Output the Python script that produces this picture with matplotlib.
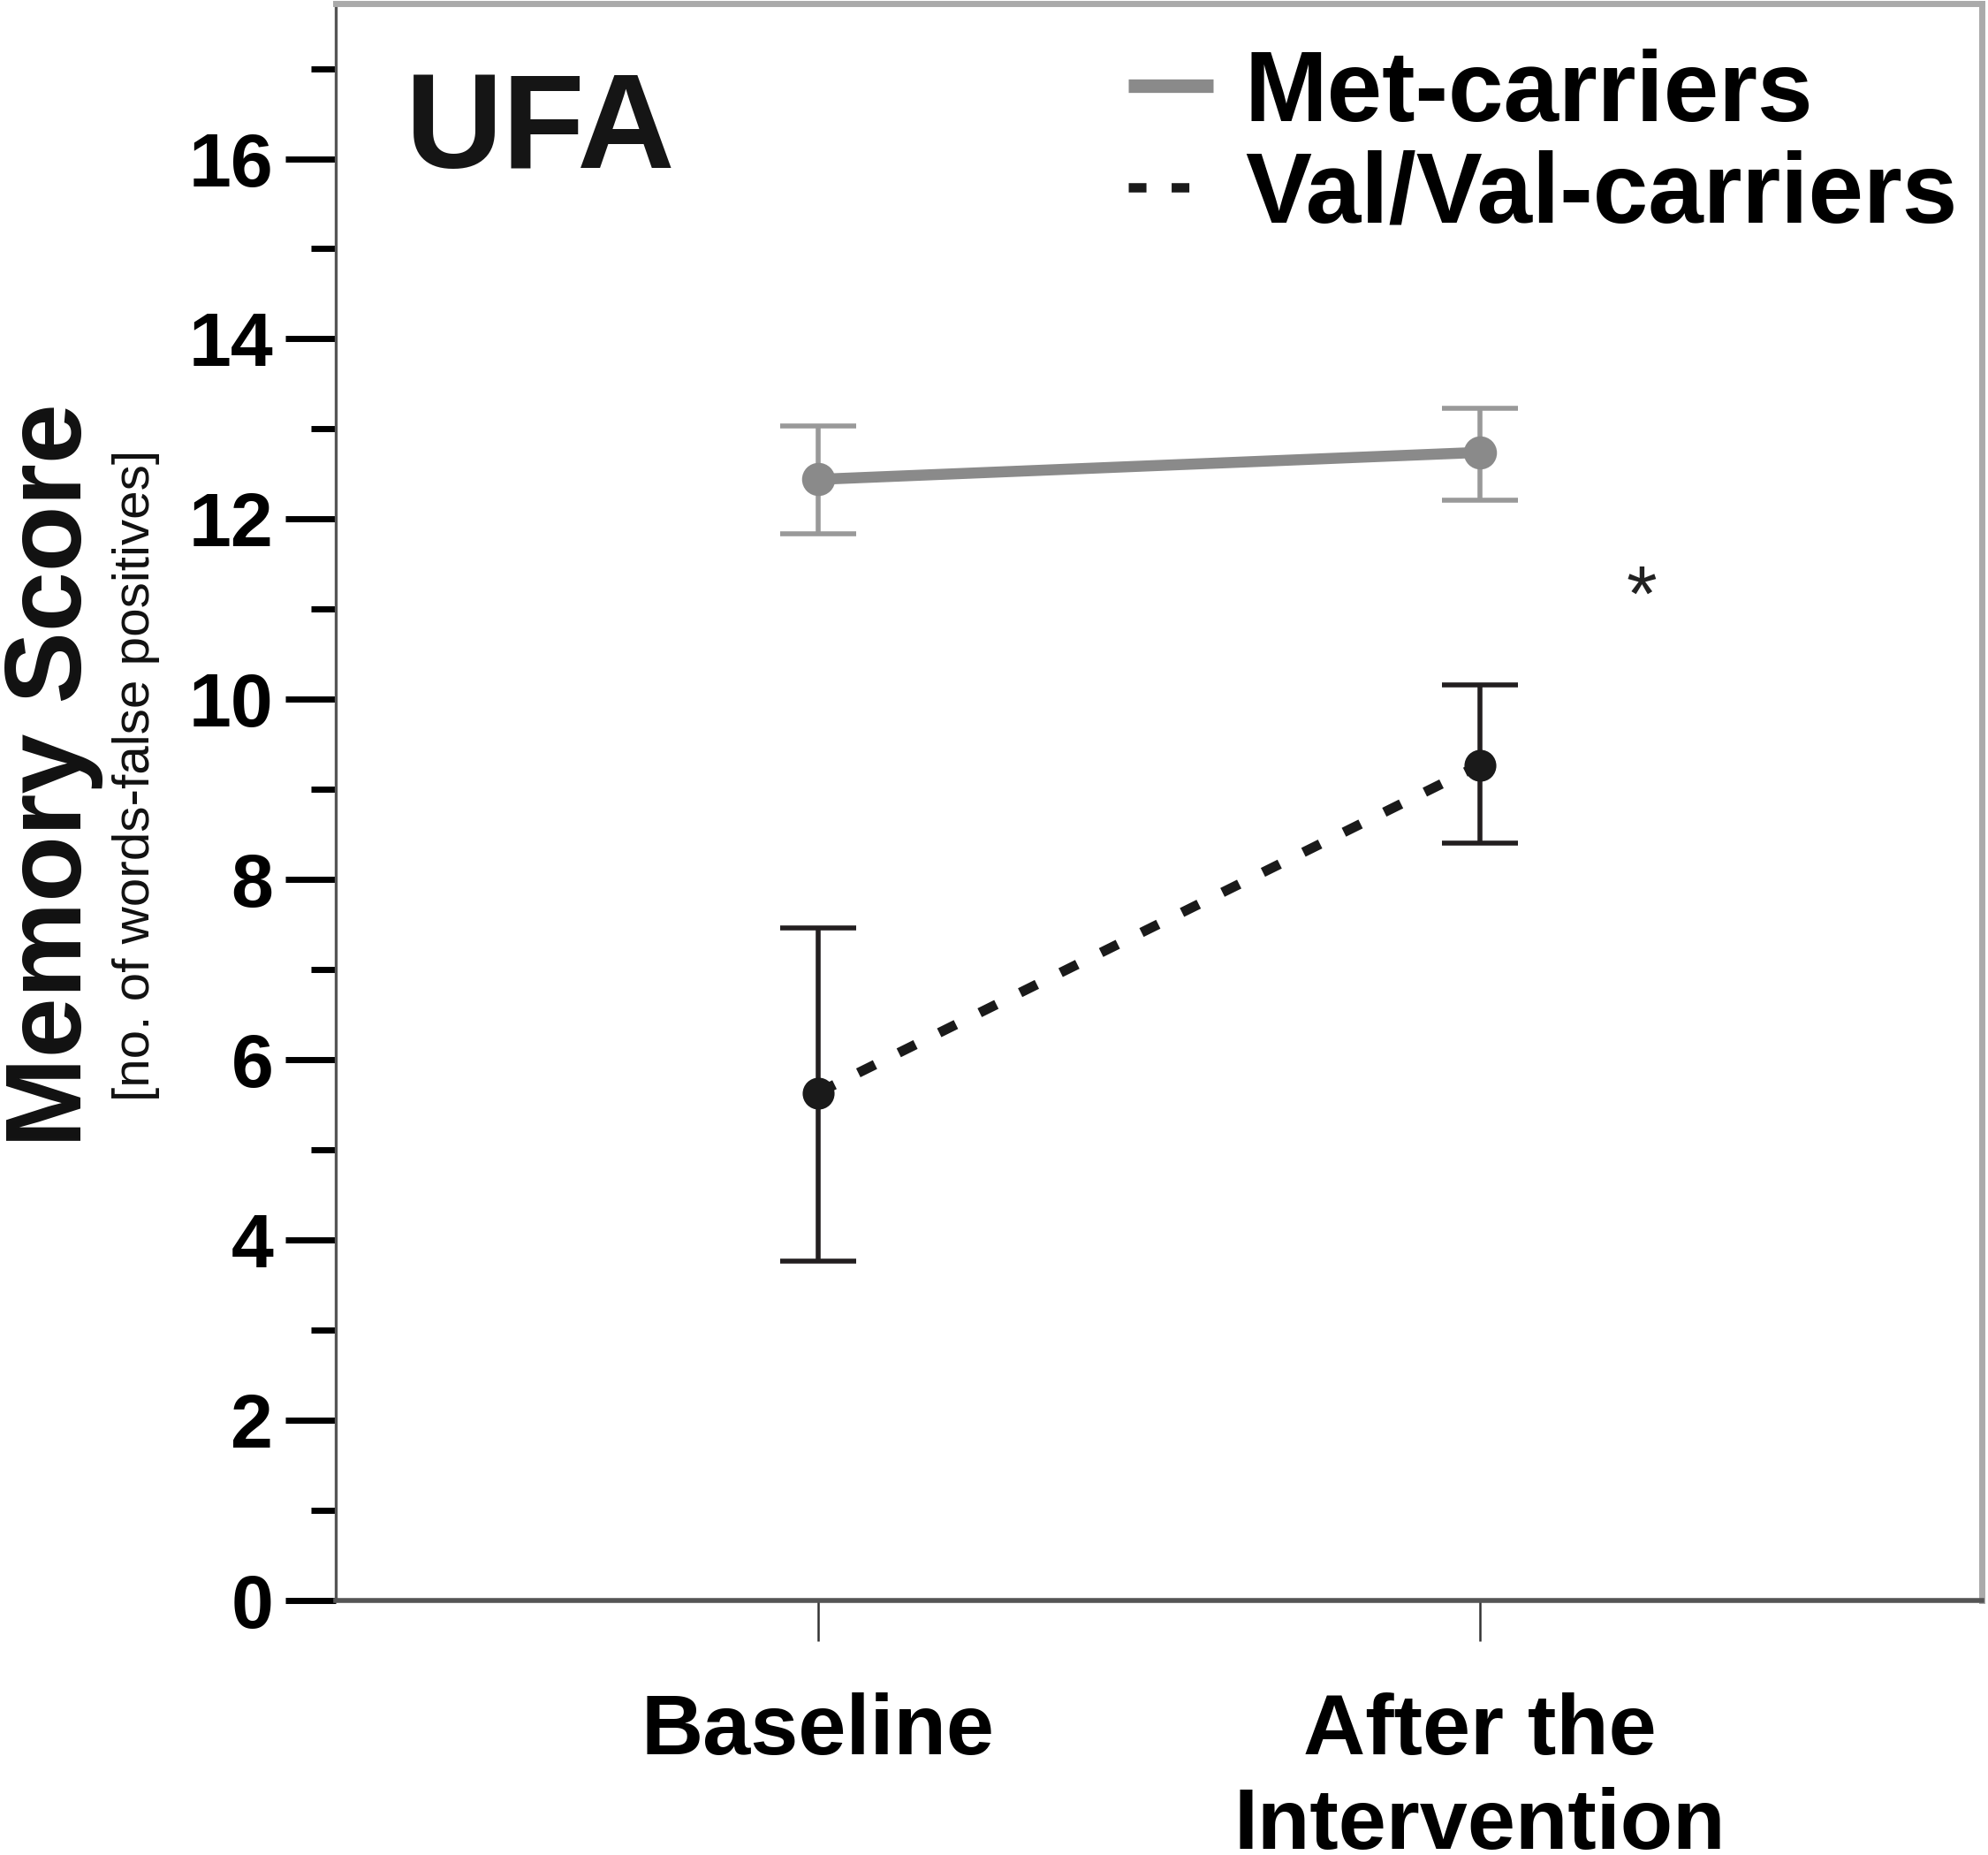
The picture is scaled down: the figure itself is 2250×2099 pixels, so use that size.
import matplotlib
matplotlib.use("Agg")
import matplotlib.pyplot as plt
from matplotlib.lines import Line2D
import numpy as np

# data
conditions = ["Baseline", "After the\nIntervention"]
met_mean = [12.44, 12.74]
met_low = [11.84, 12.21]
met_high = [13.03, 13.23]
val_mean = [5.63, 9.27]
val_low = [3.76, 8.40]
val_high = [7.46, 10.16]

plt.rcParams['font.family'] = ['Liberation Sans', 'DejaVu Sans']

fig = plt.figure(figsize=(11.25, 10.495), dpi=200)
ax = fig.add_axes([0.169, 0.1374, 0.828, 0.8606])

x = np.arange(len(conditions))

met_err = [np.subtract(met_mean, met_low), np.subtract(met_high, met_mean)]
val_err = [np.subtract(val_mean, val_low), np.subtract(val_high, val_mean)]

ax.errorbar(x, met_mean, yerr=met_err, fmt='none', ecolor='#999999',
            elinewidth=2.0, capsize=15.5, capthick=2.0, zorder=2)
ax.plot(x, met_mean, color='#8a8a8a', lw=4.5, marker='o', ms=12.5,
        solid_capstyle='butt', zorder=3)

ax.errorbar(x, val_mean, yerr=val_err, fmt='none', ecolor='#231f20',
            elinewidth=2.0, capsize=15.5, capthick=2.0, zorder=2)
ax.plot(x, val_mean, color='#1a1a1a', lw=4.0, ls=(0, (1.9, 2.7)),
        dash_capstyle='butt', zorder=3)
ax.plot(x, val_mean, color='#1a1a1a', ls='none', marker='o', ms=12,
        zorder=4)

# significance mark
ax.text(1.245, 11.1, '*', fontsize=32, ha='center', va='center',
        color='#222222')

ax.set_xlim(-0.728, 1.759)
ax.set_ylim(0, 17.72)
ax.set_yticks(np.arange(0, 17, 2))
ax.set_yticks(np.arange(1, 18, 2), minor=True)
ax.set_xticks(x)
ax.set_xticklabels(conditions, fontsize=35, fontweight='bold',
                   linespacing=1.25)
ax.tick_params(axis='y', which='major', length=20.5, width=2.5,
               labelsize=31, pad=5, direction='out')
for lab in ax.get_yticklabels():
    lab.set_fontweight('bold')
ax.tick_params(axis='y', which='minor', length=10, width=2.5,
               direction='out')
ax.tick_params(axis='x', length=16.5, width=0.9, pad=21, color='#333333')

ax.spines['left'].set_color('#555555')
ax.spines['left'].set_linewidth(1.2)
ax.spines['bottom'].set_color('#555555')
ax.spines['bottom'].set_linewidth(2.0)
for s in ['top', 'right']:
    ax.spines[s].set_color('#aaaaaa')
    ax.spines[s].set_linewidth(2.5)

ax.text(0.042, 0.897, 'UFA', transform=ax.transAxes, fontsize=55,
        fontweight='bold', ha='left', va='baseline', color='#151515')

handles = [Line2D([], [], color='#8a8a8a', lw=5.5, solid_capstyle='butt'),
           Line2D([], [], color='#1a1a1a', lw=3.8, ls=(0, (1.9, 2.7)),
                  dash_capstyle='butt')]
leg = ax.legend(handles, ['Met-carriers', 'Val/Val-carriers'],
                loc='upper left', bbox_to_anchor=(0.4815, 0.972),
                frameon=False, borderpad=0, borderaxespad=0,
                handlelength=0.85, handletextpad=0.32, labelspacing=0.08,
                prop={'size': 40.5, 'weight': 'bold'})

fig.text(0.0265, 0.582, 'Memory Score', rotation=90, ha='center',
         va='center', fontsize=44, fontweight='bold', color='#111111')
fig.text(0.0685, 0.582, '[no. of words-false positives]', rotation=90,
         ha='center', va='center', fontsize=21, color='#111111')

fig.savefig('out.png', dpi=200)
